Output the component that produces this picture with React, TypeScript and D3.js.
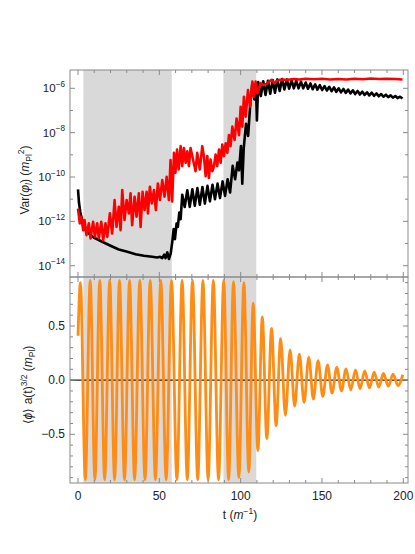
import React from "react";
import * as d3 from "d3";

// ---------- data ----------
// shaded time windows (t)
const bands: [number, number][] = [
  [3.3, 57.6],
  [89.4, 109.6],
];

const xMajorTicks = [0, 50, 100, 150, 200];
const topLogLabels = [-14, -12, -10, -8, -6];
const topLogTicks = [-14, -13, -12, -11, -10, -9, -8, -7, -6];
const bottomLabels = [-0.5, 0, 0.5];

// Var(phi_l), black: [t, log10 value]
const blackVar: [number, number][] = [
  [0, -10.56], [0.6, -11.15], [1.5, -11.64], [3.2, -12.09], [4.6, -12.4], [7.7, -12.62],
  [9.7, -12.73], [14.9, -12.92], [20, -13.1], [25.1, -13.27], [30.3, -13.37], [35.4, -13.48],
  [40.5, -13.55], [45.6, -13.6], [48.7, -13.63], [50.5, -13.6], [51.8, -13.66], [53.0, -13.5],
  [53.8, -13.66], [54.9, -13.4], [55.9, -13.7], [57.0, -13.45], [58.0, -12.9], [58.8, -12.35],
  [59.6, -12.8], [60.6, -12.1], [61.4, -12.25], [62.3, -11.6], [63.1, -11.9], [64.1, -10.8],
  [65.6, -11.35], [67.2, -10.6], [68.7, -11.35], [70.3, -10.55], [71.8, -11.3], [73.4, -10.5],
  [74.9, -11.25], [76.5, -10.45], [78.0, -11.2], [79.6, -10.4], [81.1, -11.1], [82.7, -10.35],
  [84.2, -11.0], [85.8, -10.3], [87.3, -10.95], [88.9, -10.2], [90.4, -10.85], [92.0, -10.1],
  [93.5, -10.7], [95.1, -9.5], [96.6, -10.1], [98.0, -9.35], [99.0, -9.7], [100.2, -8.6],
  [101.0, -10.3], [101.9, -8.7], [103.3, -7.6], [104.6, -8.15], [106.0, -6.6], [107.2, -5.78],
  [108.4, -6.5], [109.4, -5.9], [110.0, -7.45], [110.8, -5.72], [112.4, -6.35], [113.9, -5.68],
  [115.3, -6.3], [116.8, -5.66], [118.2, -6.25], [119.7, -5.63], [121.1, -6.2], [122.6, -5.6],
  [124.0, -6.12], [125.5, -5.58], [126.9, -6.05], [128.4, -5.6], [129.8, -6.02], [131.3, -5.63],
  [132.7, -6.0], [134.2, -5.66], [135.6, -6.0], [137.1, -5.7], [138.5, -6.0], [140.0, -5.74],
  [141.4, -6.02], [142.9, -5.78], [144.3, -6.04], [145.8, -5.82], [147.2, -6.06], [148.7, -5.86],
  [150.1, -6.08], [151.6, -5.9], [153.0, -6.1], [154.5, -5.93], [155.9, -6.13], [157.4, -5.96],
  [158.8, -6.16], [160.3, -6.0], [161.7, -6.18], [163.2, -6.03], [164.6, -6.21], [166.1, -6.06],
  [167.5, -6.23], [169.0, -6.09], [170.4, -6.26], [171.9, -6.12], [173.3, -6.28], [174.8, -6.15],
  [176.2, -6.3], [177.7, -6.18], [179.1, -6.32], [180.6, -6.2], [182.0, -6.34], [183.5, -6.23],
  [184.9, -6.36], [186.4, -6.26], [187.8, -6.38], [189.3, -6.29], [190.7, -6.4], [192.2, -6.32],
  [193.6, -6.42], [195.1, -6.35], [196.5, -6.44], [198.0, -6.38], [199.5, -6.46],
];

// Var(phi_l), red: [t, log10 value]
const redVar: [number, number][] = [
  [0, -11.42], [1.1, -12.09], [2.0, -11.79], [3.2, -12.4], [4.0, -11.94], [5.2, -12.62],
  [6.7, -12.09], [7.7, -12.77], [9.3, -12.02], [10.4, -12.7], [11.8, -12.09], [12.8, -12.77],
  [14.3, -12.02], [15.5, -12.85], [16.9, -12.09], [18.0, -12.7], [19.6, -11.64], [21.0, -12.55],
  [22.5, -11.04], [23.7, -12.25], [25.1, -11.34], [26.2, -12.4], [27.2, -10.59], [28.6, -11.94],
  [29.9, -11.04], [31.3, -11.64], [32.3, -10.74], [33.3, -12.17], [34.8, -10.89], [36.0, -11.79],
  [37.4, -10.74], [38.5, -12.25], [39.7, -10.67], [40.9, -11.49], [42.2, -10.67], [43.0, -11.64],
  [44.2, -10.44], [45.4, -11.19], [46.7, -10.59], [47.9, -11.49], [49.1, -10.29], [50.4, -11.04],
  [51.8, -10.14], [53.2, -10.89], [54.5, -9.99], [55.9, -11.04], [56.9, -9.24], [57.9, -11.1],
  [59.0, -8.91], [59.9, -9.81], [60.9, -8.76], [61.9, -9.66], [63.1, -8.61], [64.1, -9.51],
  [65.1, -8.69], [66.2, -9.36], [67.2, -8.84], [68.2, -9.51], [69.2, -8.69], [70.7, -9.21],
  [72.3, -9.74], [73.3, -8.91], [74.9, -9.66], [76.4, -8.61], [77.4, -9.06], [78.5, -9.96],
  [79.5, -9.06], [80.5, -10.04], [81.5, -9.21], [82.6, -9.74], [83.6, -9.51], [84.6, -8.99],
  [85.6, -9.51], [86.7, -8.76], [87.7, -9.36], [88.7, -8.54], [89.7, -9.06], [90.8, -8.48],
  [91.8, -8.91], [92.8, -8.11], [93.8, -8.61], [94.9, -7.73], [96.3, -8.33], [97.5, -7.36],
  [99.0, -8.11], [100.0, -6.83], [101.0, -7.73], [102.0, -6.38], [103.1, -7.28], [104.5, -6.08],
  [105.8, -6.83], [107.2, -5.7], [108.2, -6.38], [109.2, -5.7], [110.3, -6.23], [112.3, -5.77],
  [114, -5.85], [116, -5.8], [117.5, -5.7], [119, -5.62], [120.5, -5.75], [122, -5.68],
  [124, -5.62], [126, -5.6], [128, -5.63], [130, -5.6], [133, -5.58], [136, -5.6], [140, -5.57],
  [145, -5.59], [150, -5.57], [155, -5.6], [160, -5.58], [165, -5.6], [170, -5.57], [175, -5.59],
  [180, -5.56], [185, -5.58], [190, -5.57], [195, -5.58], [199.5, -5.6],
];

// <phi> a(t)^{3/2}: start point and successive extrema [t, value]
const meanField: [number, number][] = [
  [0, 0.41], [1.5, 0.9], [4.5, -0.92], [7.5, 0.92], [10.4, -0.92], [13.4, 0.92], [16.4, -0.92],
  [19.5, 0.92], [22.5, -0.92], [25.5, 0.92], [28.6, -0.92], [31.7, 0.92], [34.8, -0.92],
  [38.0, 0.92], [41.2, -0.92], [44.4, 0.92], [47.6, -0.92], [50.9, 0.92], [54.2, -0.92],
  [57.5, 0.92], [60.8, -0.92], [64.0, 0.92], [67.2, -0.92], [70.4, 0.92], [73.6, -0.92],
  [76.8, 0.92], [80.0, -0.92], [83.2, 0.92], [86.4, -0.92], [89.6, 0.92], [92.6, -0.92],
  [95.6, 0.91], [98.9, -0.9], [102.0, 0.9], [105.0, -0.85], [107.7, 0.71], [110.6, -0.65],
  [113.3, 0.585], [116.1, -0.54], [119.0, 0.477], [121.8, -0.42], [124.6, 0.384], [127.5, -0.325],
  [130.4, 0.28], [133.2, -0.24], [136.1, 0.24], [139.0, -0.205], [141.9, 0.21], [144.7, -0.175],
  [147.6, 0.18], [150.5, -0.15], [153.4, 0.14], [156.2, -0.12], [159.1, 0.117], [162.0, -0.1],
  [164.8, 0.105], [167.7, -0.09], [170.6, 0.095], [173.4, -0.08], [176.3, 0.085], [179.2, -0.072],
  [182.1, 0.074], [184.9, -0.064], [187.8, 0.062], [190.8, -0.056], [193.7, 0.055], [196.7, -0.05],
  [199.7, 0.05],
];

// ---------- layout ----------
const W = 415;
const H = 554;
const FL = 70, FR = 408;
const T1 = 70, B1 = 277, B2 = 483;
const FONT = "'Liberation Sans', Arial, sans-serif";

export default function App() {
  const x = d3.scaleLinear().domain([0, 200]).range([78, 403.3]);
  const yTop = d3.scaleLog().domain([1e-14, 1e-6]).range([265.7, 88.3]);
  const yBot = d3.scaleLinear().domain([-0.5, 0.5]).range([434.3, 326]);

  const lineTop = d3
    .line<[number, number]>()
    .x((d) => x(d[0]))
    .y((d) => yTop(Math.pow(10, d[1])));
  const lineBot = d3
    .line<[number, number]>()
    .x((d) => x(d[0]))
    .y((d) => yBot(d[1]))
    .curve(d3.curveMonotoneX);

  const xMinor = d3.range(0, 201, 10).filter((v) => v % 50 !== 0);
  const botMinor = d3.range(-9, 10).map((v) => v / 10).filter((v) => Math.abs(v) !== 0.5 && v !== 0);
  const frameColor = "#8a8a8a";
  const tickColor = "#8a8a8a";

  const xTickMarks = (yEdge: number, dir: number, key: string) => (
    <g key={key}>
      {xMajorTicks.map((v) => (
        <line key={"M" + v} x1={x(v)} x2={x(v)} y1={yEdge} y2={yEdge + dir * 5} stroke={tickColor} strokeWidth={1} />
      ))}
      {xMinor.map((v) => (
        <line key={"m" + v} x1={x(v)} x2={x(v)} y1={yEdge} y2={yEdge + dir * 3} stroke={tickColor} strokeWidth={1} />
      ))}
    </g>
  );

  return (
    <svg width={W} height={H} style={{ display: "block", position: "absolute", left: 0, top: 0 }} fontFamily={FONT}>
      <defs>
        <clipPath id="clipTop">
          <rect x={FL} y={T1} width={FR - FL} height={B1 - T1} />
        </clipPath>
        <clipPath id="clipBot">
          <rect x={FL} y={B1} width={FR - FL} height={B2 - B1} />
        </clipPath>
      </defs>
      <rect x={0} y={0} width={W} height={H} fill="#fff" />

      {/* shaded bands */}
      {bands.map((b, i) => (
        <rect key={i} x={x(b[0])} y={T1} width={x(b[1]) - x(b[0])} height={B2 - T1} fill="#d9d9d9" />
      ))}

      {/* top panel curves */}
      <g clipPath="url(#clipTop)">
        <path d={lineTop(blackVar) || ""} fill="none" stroke="#000" strokeWidth={2.6} strokeLinejoin="round" />
        <path d={lineTop(redVar) || ""} fill="none" stroke="#ff0000" strokeWidth={2.6} strokeLinejoin="round" />
      </g>

      {/* bottom panel */}
      <g clipPath="url(#clipBot)">
        <line x1={FL} x2={FR} y1={yBot(0)} y2={yBot(0)} stroke="#222" strokeWidth={1.1} />
        <path d={lineBot(meanField) || ""} fill="none" stroke="#ff8c14" strokeWidth={2.8} strokeLinejoin="round" />
      </g>

      {/* frames */}
      <rect x={FL} y={T1} width={FR - FL} height={B1 - T1} fill="none" stroke={frameColor} strokeWidth={1} />
      <rect x={FL} y={B1} width={FR - FL} height={B2 - B1} fill="none" stroke={frameColor} strokeWidth={1} />

      {/* x ticks on all horizontal edges */}
      {xTickMarks(T1, 1, "t1")}
      {xTickMarks(B1, -1, "b1")}
      {xTickMarks(B1, 1, "t2")}
      {xTickMarks(B2, -1, "b2")}

      {/* top y ticks */}
      {topLogTicks.map((e) => {
        const yy = yTop(Math.pow(10, e));
        const len = e % 2 === 0 ? 5 : 3;
        return (
          <g key={"ty" + e}>
            <line x1={FL} x2={FL + len} y1={yy} y2={yy} stroke={tickColor} />
            <line x1={FR} x2={FR - len} y1={yy} y2={yy} stroke={tickColor} />
          </g>
        );
      })}
      {topLogLabels.map((e) => {
        const yy = yTop(Math.pow(10, e));
        return (
          <text key={"tl" + e} x={65} y={yy + 4} textAnchor="end" fontSize={11.5} fill="#222">
            10
            <tspan fontSize={8.2} dy={-5.5}>
              {"\u2212" + Math.abs(e)}
            </tspan>
          </text>
        );
      })}

      {/* bottom y ticks */}
      {bottomLabels.map((v) => (
        <g key={"by" + v}>
          <line x1={FL} x2={FL + 5} y1={yBot(v)} y2={yBot(v)} stroke={tickColor} />
          <line x1={FR} x2={FR - 5} y1={yBot(v)} y2={yBot(v)} stroke={tickColor} />
          <text x={65} y={yBot(v) + 4} textAnchor="end" fontSize={12} fill="#222">
            {(v < 0 ? "\u2212" : "") + Math.abs(v).toFixed(1)}
          </text>
        </g>
      ))}
      {botMinor.map((v) => (
        <g key={"bm" + v}>
          <line x1={FL} x2={FL + 3} y1={yBot(v)} y2={yBot(v)} stroke={tickColor} />
          <line x1={FR} x2={FR - 3} y1={yBot(v)} y2={yBot(v)} stroke={tickColor} />
        </g>
      ))}

      {/* x tick labels */}
      {xMajorTicks.map((v) => (
        <text key={"xl" + v} x={x(v)} y={500} textAnchor="middle" fontSize={12} fill="#222">
          {v}
        </text>
      ))}

      {/* axis titles */}
      <text x={240} y={519} textAnchor="middle" fontSize={12} fill="#222">
        t (<tspan fontStyle="italic">m</tspan>
        <tspan fontSize={8.5} dy={-5}>{"\u22121"}</tspan>
        <tspan dy={5}>)</tspan>
      </text>

      <text transform="translate(29,180) rotate(-90)" textAnchor="middle" fontSize={12} fill="#222">
        Var(<tspan fontStyle="italic">{"\u03c6"}</tspan>
        <tspan fontSize={8.5} dy={3} fontStyle="italic">l</tspan>
        <tspan dy={-3}>) (</tspan>
        <tspan fontStyle="italic">m</tspan>
        <tspan fontSize={8.5} dy={3}>Pl</tspan>
        <tspan fontSize={8.5} dy={-8}>2</tspan>
        <tspan dy={5}>)</tspan>
      </text>

      <text transform="translate(32,385) rotate(-90)" textAnchor="middle" fontSize={12} fill="#222">
        {"\u27e8"}
        <tspan fontStyle="italic">{"\u03d5"}</tspan>
        {"\u27e9 a(t)"}
        <tspan fontSize={8.5} dy={-5}>3/2</tspan>
        <tspan dy={5}> (</tspan>
        <tspan fontStyle="italic">m</tspan>
        <tspan fontSize={8.5} dy={3}>Pl</tspan>
        <tspan dy={-3}>)</tspan>
      </text>
    </svg>
  );
}
